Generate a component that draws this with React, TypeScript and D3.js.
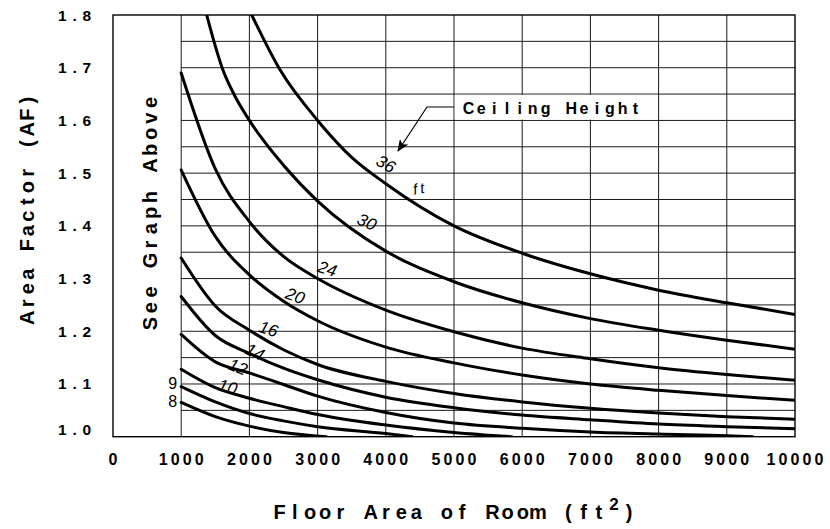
import React from "react";
import * as d3 from "d3";

// ---------- data ----------
const xTickValues = [0, 1000, 2000, 3000, 4000, 5000, 6000, 7000, 8000, 9000, 10000];
const yTickValues = [1.0, 1.1, 1.2, 1.3, 1.4, 1.5, 1.6, 1.7, 1.8];
const yTickLabels = ["1.0", "1.1", "1.2", "1.3", "1.4", "1.5", "1.6", "1.7", "1.8"];
const gridXValues = [1000, 2000, 3000, 4000, 5000, 6000, 7000, 8000, 9000];
const gridYValues = [1.05, 1.1, 1.15, 1.2, 1.25, 1.3, 1.35, 1.4, 1.45, 1.5, 1.55, 1.6, 1.65, 1.7, 1.75];

// ceiling height (ft) -> [floor area ft², area factor]
const af8: [number, number][] = [[1000, 1.065], [1500, 1.038], [2000, 1.02], [2500, 1.008], [3130, 1.0]];
const af9: [number, number][] = [[1000, 1.095], [1500, 1.066], [2000, 1.044], [2500, 1.03], [3000, 1.019], [4000, 1.006], [4390, 1.0]];
const af10: [number, number][] = [[1000, 1.128], [1500, 1.093], [2000, 1.073], [2500, 1.057], [3000, 1.042], [4000, 1.022], [5000, 1.008], [5850, 1.0]];
const af12: [number, number][] = [[1000, 1.194], [1500, 1.142], [2000, 1.121], [2500, 1.099], [3000, 1.077], [4000, 1.046], [5000, 1.026], [6000, 1.016], [7000, 1.009], [8000, 1.005], [9000, 1.002], [9380, 1.0]];
const af14: [number, number][] = [[1000, 1.266], [1500, 1.192], [2000, 1.158], [2500, 1.13], [3000, 1.108], [4000, 1.075], [5000, 1.055], [6000, 1.041], [7000, 1.032], [8000, 1.024], [9000, 1.019], [10000, 1.015]];
const af16: [number, number][] = [[1000, 1.339], [1500, 1.248], [2000, 1.202], [2500, 1.165], [3000, 1.137], [4000, 1.105], [5000, 1.082], [6000, 1.066], [7000, 1.054], [8000, 1.045], [9000, 1.038], [10000, 1.033]];
const af20: [number, number][] = [[1000, 1.506], [1500, 1.38], [2000, 1.307], [2500, 1.257], [3000, 1.22], [4000, 1.17], [5000, 1.14], [6000, 1.117], [7000, 1.1], [8000, 1.088], [9000, 1.078], [10000, 1.069]];
const af24: [number, number][] = [[1000, 1.69], [1500, 1.508], [2000, 1.408], [2500, 1.342], [3000, 1.3], [4000, 1.24], [5000, 1.199], [6000, 1.168], [7000, 1.148], [8000, 1.131], [9000, 1.118], [10000, 1.107]];
const af30: [number, number][] = [[1374, 1.8], [1480, 1.75], [1600, 1.7], [1764, 1.652], [2000, 1.6], [2500, 1.515], [3000, 1.447], [4000, 1.352], [5000, 1.294], [6000, 1.254], [7000, 1.224], [8000, 1.202], [9000, 1.183], [10000, 1.166]];
const af36: [number, number][] = [[2034, 1.8], [2449, 1.696], [3000, 1.6], [3500, 1.53], [4000, 1.48], [5000, 1.4], [6000, 1.348], [7000, 1.309], [8000, 1.278], [9000, 1.254], [10000, 1.232]];
const allCurves = [af8, af9, af10, af12, af14, af16, af20, af24, af30, af36];

// curve labels: text, floor area, area factor, rotation
const curveLabelText = ["36", "30", "24", "20", "16", "14", "12", "10"];
const curveLabelX = [4000, 3720, 3140, 2670, 2280, 2080, 1830, 1680];
const curveLabelY = [1.517, 1.407, 1.318, 1.267, 1.204, 1.16, 1.132, 1.094];
const curveLabelRot = [30, 25, 18, 20, 18, 25, 22, 15];
const sideLabelText = ["9", "8"];
const sideLabelY = [1.1, 1.066];

const FONT = "'Liberation Sans', Arial, Helvetica, sans-serif";

const W = 830;
const H = 529;
const L = 113;
const R = 795;
const T = 15;
const B = 436.7;

const x = d3.scaleLinear().domain([0, 10000]).range([L, R]);
const y = d3.scaleLinear().domain([1.0, 1.8]).range([B, T]);
const line = d3
  .line<[number, number]>()
  .x((d) => x(d[0]))
  .y((d) => y(d[1]))
  .curve(d3.curveMonotoneX);

function Mono(props: {
  x: number;
  y: number;
  text: string;
  pitch: number;
  size: number;
  weight?: string;
  anchor?: "start" | "middle" | "end";
  fontStyle?: string;
}) {
  const { text, pitch, size } = props;
  const n = text.length;
  const total = n * pitch;
  const anchor = props.anchor || "start";
  const x0 = anchor === "start" ? props.x : anchor === "middle" ? props.x - total / 2 : props.x - total;
  return (
    <g>
      {[...text].map((c, i) =>
        c === " " ? null : (
          <text
            key={i}
            x={x0 + (i + 0.5) * pitch}
            y={props.y}
            textAnchor="middle"
            fontSize={size}
            fontWeight={props.weight || "normal"}
            fontStyle={props.fontStyle || "normal"}
            fontFamily={FONT}
            fill="#000"
          >
            {c}
          </text>
        )
      )}
    </g>
  );
}

export default function App() {
  const titlePitch = 15.2;
  const titleStart = 272;
  return (
    <svg
      width={W}
      height={H}
      viewBox={`0 0 ${W} ${H}`}
      style={{ position: "absolute", left: 0, top: 0, background: "#fff" }}
    >
      <rect x={0} y={0} width={W} height={H} fill="#fff" />
      <defs>
        <clipPath id="plotClip">
          <rect x={L} y={T} width={R - L} height={B - T} />
        </clipPath>
        <marker id="arrow" viewBox="0 0 12 10" refX="11" refY="5" markerWidth="12" markerHeight="10" markerUnits="userSpaceOnUse" orient="auto">
          <path d="M0,0 L12,5 L0,10 L3,5 Z" fill="#000" />
        </marker>
      </defs>

      {/* grid */}
      <g stroke="#1a1a1a" strokeWidth={1}>
        {gridXValues.map((v) => (
          <line key={"gx" + v} x1={x(v)} x2={x(v)} y1={T} y2={B} />
        ))}
        {gridYValues.map((v) => (
          <line key={"gy" + v} x1={x(1000)} x2={R} y1={y(v)} y2={y(v)} />
        ))}
      </g>

      {/* Ceiling height callout */}
      <rect x={x(5000) + 0.8} y={y(1.65) + 0.8} width={x(8000) - x(5000) - 1.6} height={y(1.6) - y(1.65) - 1.6} fill="#fff" />
      <Mono x={462} y={114} text="Ceiling Height" pitch={12.85} size={16} weight="bold" />
      <polyline
        points={`${x(5000)},107 427,107 398,151`}
        fill="none"
        stroke="#000"
        strokeWidth={1.2}
        markerEnd="url(#arrow)"
      />

      {/* curves */}
      <g clipPath="url(#plotClip)" fill="none" stroke="#000" strokeWidth={3} strokeLinecap="round">
        {allCurves.map((c, i) => (
          <path key={"c" + i} d={line(c) || ""} />
        ))}
      </g>

      {/* frame */}
      <rect x={L} y={T} width={R - L} height={B - T} fill="none" stroke="#000" strokeWidth={1.4} />

      {/* curve labels */}
      {curveLabelText.map((t, i) => (
        <g key={"cl" + i} transform={`translate(${x(curveLabelX[i])},${y(curveLabelY[i])}) rotate(${curveLabelRot[i]})`}>
          <text
            x={0}
            y={0}
            textAnchor="middle"
            dominantBaseline="central"
            fontSize={17}
            fontStyle="italic"
            fontFamily={FONT}
            fill="#000"
          >
            {t}
          </text>
        </g>
      ))}
      <g transform={`translate(420,188) rotate(-10)`}>
        <text x={0} y={0} textAnchor="middle" dominantBaseline="central" fontSize={15} fontStyle="italic" fontFamily={FONT} letterSpacing={3}>
          ft
        </text>
      </g>
      {sideLabelText.map((t, i) => (
        <text
          key={"sl" + i}
          x={x(1000) - 4}
          y={y(sideLabelY[i])}
          textAnchor="end"
          dominantBaseline="central"
          fontSize={16}
          fontFamily={FONT}
          fill="#000"
        >
          {t}
        </text>
      ))}

      {/* See Graph Above */}
      <g transform={`translate(157,213) rotate(-90)`}>
        <Mono x={0} y={0} text="See Graph Above" pitch={15.8} size={20} weight="bold" anchor="middle" />
      </g>

      {/* y tick labels */}
      {yTickValues.map((v, i) => (
        <Mono key={"yt" + i} x={93} y={y(v) + 5.5 - (i === 0 ? 7 : 0)} text={yTickLabels[i]} pitch={12.3} size={15.5} weight="bold" anchor="end" />
      ))}

      {/* x tick labels */}
      {xTickValues.map((v) => (
        <Mono key={"xt" + v} x={x(v)} y={465} text={String(v)} pitch={12} size={16} weight="bold" anchor="middle" />
      ))}

      {/* axis titles */}
      <g transform={`translate(34,209) rotate(-90)`}>
        <Mono x={0} y={0} text="Area Factor (AF)" pitch={14.5} size={20} weight="bold" anchor="middle" />
      </g>
      <Mono x={titleStart} y={519} text="Floor Area of Room (ft" pitch={titlePitch} size={20} weight="bold" />
      <Mono x={titleStart + 22 * titlePitch} y={510} text="2" pitch={titlePitch} size={17} weight="bold" />
      <Mono x={titleStart + 23 * titlePitch} y={519} text=")" pitch={titlePitch} size={20} weight="bold" />
    </svg>
  );
}
